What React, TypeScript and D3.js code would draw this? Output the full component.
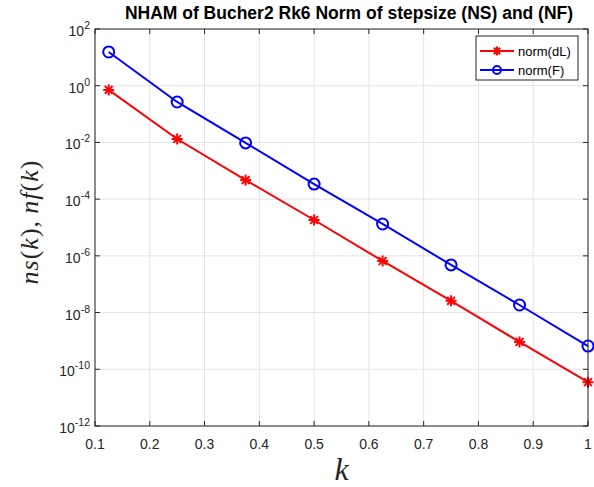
import React from "react";
import * as d3 from "d3";

const kValues = [0.125, 0.25, 0.375, 0.5, 0.625, 0.75, 0.875, 1];
const normDL = [0.71, 0.0132, 4.7e-4, 1.84e-5, 6.6e-7, 2.6e-8, 9.2e-10, 3.5e-11];
const normF = [15.5, 0.267, 0.0096, 3.4e-4, 1.33e-5, 4.8e-7, 1.85e-8, 6.6e-10];
const xTicks = [0.1, 0.2, 0.3, 0.4, 0.5, 0.6, 0.7, 0.8, 0.9, 1];
const yTickExps = [2, 0, -2, -4, -6, -8, -10, -12];
const titleText = "NHAM of Bucher2 Rk6 Norm of stepsize (NS) and (NF)";
const seriesNames = ["norm(dL)", "norm(F)"];

const W = 594, H = 487;
const L = 95, R = 588, T = 29, B = 426;
const axisColor = "#262626";
const font = "Arial, 'Liberation Sans', Helvetica, sans-serif";
const serif = "'Liberation Serif', 'DejaVu Serif', serif";

function Asterisk({ x, y, s, color }: { x: number; y: number; s: number; color: string }) {
  const d = s * 0.707;
  return (
    <g stroke={color} strokeWidth={2}>
      <line x1={x - s} y1={y} x2={x + s} y2={y} />
      <line x1={x} y1={y - s} x2={x} y2={y + s} />
      <line x1={x - d} y1={y - d} x2={x + d} y2={y + d} />
      <line x1={x - d} y1={y + d} x2={x + d} y2={y - d} />
    </g>
  );
}

export default function App() {
  const x = d3.scaleLinear().domain([0.1, 1]).range([L, R]);
  const y = d3.scaleLog().domain([1e-12, 1e2]).range([B, T]);
  const line = d3.line<number>().x((_, i) => x(kValues[i])).y((v) => y(v));

  return (
    <svg width={W} height={H} style={{ position: "absolute", left: 0, top: 0, background: "#fff" }}>
      <rect x={0} y={0} width={W} height={H} fill="#fff" />
      {/* grid */}
      {xTicks.map((t) => (
        <line key={"gx" + t} x1={x(t)} x2={x(t)} y1={T} y2={B} stroke="#e3e3e3" strokeWidth={1} />
      ))}
      {yTickExps.map((e) => (
        <line key={"gy" + e} x1={L} x2={R} y1={y(Math.pow(10, e))} y2={y(Math.pow(10, e))} stroke="#e3e3e3" strokeWidth={1} />
      ))}
      {/* series */}
      <path d={line(normDL) || ""} fill="none" stroke="#ff0000" strokeWidth={2} />
      <path d={line(normF) || ""} fill="none" stroke="#0000ff" strokeWidth={2} />
      {normDL.map((v, i) => (
        <Asterisk key={"a" + i} x={x(kValues[i])} y={y(v)} s={5.5} color="#ff0000" />
      ))}
      {normF.map((v, i) => (
        <circle key={"c" + i} cx={x(kValues[i])} cy={y(v)} r={5.5} fill="none" stroke="#0000ff" strokeWidth={2} />
      ))}
      {/* axes box */}
      <rect x={L} y={T} width={R - L} height={B - T} fill="none" stroke={axisColor} strokeWidth={1} />
      {xTicks.map((t) => (
        <g key={"tx" + t}>
          <line x1={x(t)} x2={x(t)} y1={B} y2={B - 5} stroke={axisColor} />
          <line x1={x(t)} x2={x(t)} y1={T} y2={T + 5} stroke={axisColor} />
          <text x={x(t)} y={B + 23} textAnchor="middle" fontFamily={font} fontSize={14} fill={axisColor}>
            {String(t)}
          </text>
        </g>
      ))}
      {yTickExps.map((e) => {
        const yy = y(Math.pow(10, e));
        return (
          <g key={"ty" + e}>
            <line x1={L} x2={L + 5} y1={yy} y2={yy} stroke={axisColor} />
            <line x1={R} x2={R - 5} y1={yy} y2={yy} stroke={axisColor} />
            <text x={L - 5} y={yy + 7} textAnchor="end" fontFamily={font} fontSize={14} fill={axisColor}>
              10<tspan dy={-7} fontSize={10.5}>{String(e)}</tspan>
            </text>
          </g>
        );
      })}
      {/* title */}
      <text x={349} y={19} textAnchor="middle" fontFamily={font} fontSize={17.5} fontWeight="bold" fill="#000">
        {titleText}
      </text>
      {/* axis labels */}
      <text x={(L + R) / 2} y={480} textAnchor="middle" fontFamily={serif} fontStyle="italic" fontSize={32} fill={axisColor}>
        k
      </text>
      <text
        transform={`translate(38, 222) rotate(-90)`}
        textAnchor="middle"
        fontFamily={serif}
        fontSize={26}
        letterSpacing={1}
        fill={axisColor}
      >
        <tspan fontStyle="italic">ns</tspan>(<tspan fontStyle="italic">k</tspan>),{"\u2009"}<tspan fontStyle="italic">nf</tspan>(<tspan fontStyle="italic">k</tspan>)
      </text>
      {/* legend */}
      <rect x={476} y={36} width={102} height={44} fill="#fff" stroke={axisColor} strokeWidth={1} />
      <line x1={480} x2={514} y1={51} y2={51} stroke="#ff0000" strokeWidth={2} />
      <Asterisk x={497} y={51} s={4.5} color="#ff0000" />
      <text x={518} y={55.5} fontFamily={font} fontSize={13} fill="#000">{seriesNames[0]}</text>
      <line x1={480} x2={514} y1={70} y2={70} stroke="#0000ff" strokeWidth={2} />
      <circle cx={497} cy={70} r={4} fill="none" stroke="#0000ff" strokeWidth={2} />
      <text x={518} y={74.5} fontFamily={font} fontSize={13} fill="#000">{seriesNames[1]}</text>
    </svg>
  );
}
